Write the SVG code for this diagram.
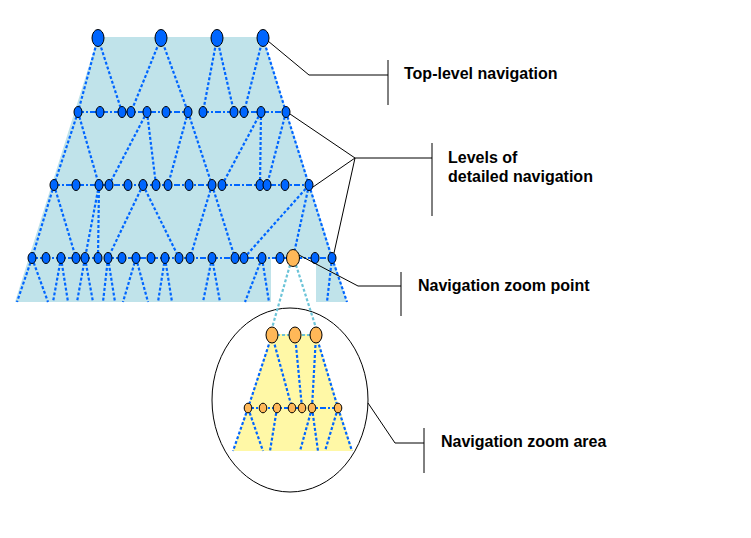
<svg xmlns="http://www.w3.org/2000/svg" width="751" height="538" viewBox="0 0 751 538">
<style>
.bg{fill:#C0E3EA;stroke:none}
.yl{fill:#FFF8A6;stroke:none}
.e{stroke:#0066FF;stroke-width:2.2;stroke-dasharray:3 2;fill:none}
.h{stroke:#0066FF;stroke-width:2.2;stroke-dasharray:6 2 2 2;fill:none}
.lb{stroke:#6CC4D8;stroke-width:2.2;stroke-dasharray:3 2;fill:none}
.n{fill:#0066FF;stroke:#000;stroke-width:1}
.o{fill:#FFB858;stroke:#000;stroke-width:1}
.ld{stroke:#000;stroke-width:1;fill:none}
.t{font-family:"Liberation Sans",Arial,sans-serif;font-size:16px;font-weight:bold;fill:#000}
</style>
<rect width="751" height="538" fill="#fff"/>
<g id="background">
<path class="bg" d="M98,37 L263,37 L347,302 L316,302 L316,259 L271,259 L271,302 L15,302 Z"/>
<ellipse cx="290" cy="400" rx="78" ry="92" fill="#fff" stroke="#000" stroke-width="1"/>
<polygon class="yl" points="272,334 316,334 353,451 233,451"/>
</g>
<g id="connectors">
<!-- top to row2 -->
<path class="e" d="M98,38 L78,112 M98,38 L122,112 M161,38 L131,112 M161,38 L188,112 M217,38 L203,112 M217,38 L234,112 M263,38 L244,112 M263,38 L286,112"/>
<!-- row2 to row3 -->
<path class="e" d="M78,112 L54,185 M78,112 L99,185 M147,112 L109,185 M147,112 L156,185 M188,112 L168,185 M188,112 L212,185 M261,112 L222,185 M261,112 L260,185 M286,112 L267,185 M286,112 L309,185"/>
<!-- row3 to row4 -->
<path class="e" d="M54,185 L32,258 M54,185 L76,258 M99,185 L85,258 M99,185 L98,258 M143,185 L108,258 M143,185 L179,258 M212,185 L190,258 M212,185 L235,258 M309,185 L244,258 M309,185 L293,258 M309,185 L332,258"/>
<!-- row4 to bottom -->
<path class="e" d="M32,258 L17,302 M32,258 L48,302 M61,258 L53,302 M61,258 L68,302 M85,258 L77,302 M85,258 L93,302 M108,258 L103,302 M108,258 L115,302 M136,258 L123,302 M136,258 L148,302 M165,258 L158,302 M165,258 L172,302 M212,258 L203,302 M212,258 L220,302 M262,258 L245,302 M262,258 L269,302 M332,258 L327,302 M332,258 L347,302"/>
<!-- zoom point to zoom area -->
<path class="lb" d="M290,265 L272,328 M296,265 L316,328"/>
<!-- row lines -->
<path class="h" d="M78,112 L188,112 M203,112 L286,112 M54,185 L309,185 M32,258 L332,258"/>
<path class="lb" d="M272,335 L316,335"/>
<!-- zoom area -->
<path class="e" d="M272,335 L248,408 M272,335 L292,408 M295,335 L302,408 M316,335 L312,408 M316,335 L338,408"/>
<path class="e" d="M248,408 L233,451 M248,408 L263,451 M277,408 L270,451 M312,408 L300,451 M312,408 L318,451 M338,408 L325,451 M338,408 L352,451"/>
<path class="h" d="M248,408 L338,408"/>
</g>
<g id="top-level">
<g id="t1"><ellipse class="n" cx="98" cy="38" rx="6" ry="8.5"/></g>
<g id="t2"><ellipse class="n" cx="161" cy="38" rx="6" ry="8.5"/></g>
<g id="t3"><ellipse class="n" cx="217" cy="38" rx="6" ry="8.5"/></g>
<g id="t4"><ellipse class="n" cx="263" cy="38" rx="6" ry="8.5"/></g>
</g>
<g id="row2">
<g id="r2-1"><ellipse class="n" cx="78" cy="112" rx="4" ry="5.5"/></g>
<g id="r2-2"><ellipse class="n" cx="100" cy="112" rx="4" ry="5.5"/></g>
<g id="r2-3"><ellipse class="n" cx="122" cy="112" rx="4" ry="5.5"/></g>
<g id="r2-4"><ellipse class="n" cx="131" cy="112" rx="4" ry="5.5"/></g>
<g id="r2-5"><ellipse class="n" cx="147" cy="112" rx="4" ry="5.5"/></g>
<g id="r2-6"><ellipse class="n" cx="166" cy="112" rx="4" ry="5.5"/></g>
<g id="r2-7"><ellipse class="n" cx="188" cy="112" rx="4" ry="5.5"/></g>
<g id="r2-8"><ellipse class="n" cx="203" cy="112" rx="4" ry="5.5"/></g>
<g id="r2-9"><ellipse class="n" cx="234" cy="112" rx="4" ry="5.5"/></g>
<g id="r2-10"><ellipse class="n" cx="244" cy="112" rx="4" ry="5.5"/></g>
<g id="r2-11"><ellipse class="n" cx="261" cy="112" rx="4" ry="5.5"/></g>
<g id="r2-12"><ellipse class="n" cx="286" cy="112" rx="4" ry="5.5"/></g>
</g>
<g id="row3">
<g id="r3-1"><ellipse class="n" cx="54" cy="185" rx="4" ry="5.5"/></g>
<g id="r3-2"><ellipse class="n" cx="76" cy="185" rx="4" ry="5.5"/></g>
<g id="r3-3"><ellipse class="n" cx="99" cy="185" rx="4" ry="5.5"/></g>
<g id="r3-4"><ellipse class="n" cx="109" cy="185" rx="4" ry="5.5"/></g>
<g id="r3-5"><ellipse class="n" cx="128" cy="185" rx="4" ry="5.5"/></g>
<g id="r3-6"><ellipse class="n" cx="143" cy="185" rx="4" ry="5.5"/></g>
<g id="r3-7"><ellipse class="n" cx="156" cy="185" rx="4" ry="5.5"/></g>
<g id="r3-8"><ellipse class="n" cx="168" cy="185" rx="4" ry="5.5"/></g>
<g id="r3-9"><ellipse class="n" cx="189" cy="185" rx="4" ry="5.5"/></g>
<g id="r3-10"><ellipse class="n" cx="212" cy="185" rx="4" ry="5.5"/></g>
<g id="r3-11"><ellipse class="n" cx="222" cy="185" rx="4" ry="5.5"/></g>
<g id="r3-12"><ellipse class="n" cx="260" cy="185" rx="4" ry="5.5"/></g>
<g id="r3-13"><ellipse class="n" cx="267" cy="185" rx="4" ry="5.5"/></g>
<g id="r3-14"><ellipse class="n" cx="285" cy="185" rx="4" ry="5.5"/></g>
<g id="r3-15"><ellipse class="n" cx="309" cy="185" rx="4" ry="5.5"/></g>
</g>
<g id="row4">
<g id="r4-1"><ellipse class="n" cx="32" cy="258" rx="4" ry="5.5"/></g>
<g id="r4-2"><ellipse class="n" cx="46" cy="258" rx="4" ry="5.5"/></g>
<g id="r4-3"><ellipse class="n" cx="61" cy="258" rx="4" ry="5.5"/></g>
<g id="r4-4"><ellipse class="n" cx="76" cy="258" rx="4" ry="5.5"/></g>
<g id="r4-5"><ellipse class="n" cx="85" cy="258" rx="4" ry="5.5"/></g>
<g id="r4-6"><ellipse class="n" cx="98" cy="258" rx="4" ry="5.5"/></g>
<g id="r4-7"><ellipse class="n" cx="108" cy="258" rx="4" ry="5.5"/></g>
<g id="r4-8"><ellipse class="n" cx="122" cy="258" rx="4" ry="5.5"/></g>
<g id="r4-9"><ellipse class="n" cx="136" cy="258" rx="4" ry="5.5"/></g>
<g id="r4-10"><ellipse class="n" cx="151" cy="258" rx="4" ry="5.5"/></g>
<g id="r4-11"><ellipse class="n" cx="165" cy="258" rx="4" ry="5.5"/></g>
<g id="r4-12"><ellipse class="n" cx="179" cy="258" rx="4" ry="5.5"/></g>
<g id="r4-13"><ellipse class="n" cx="190" cy="258" rx="4" ry="5.5"/></g>
<g id="r4-14"><ellipse class="n" cx="212" cy="258" rx="4" ry="5.5"/></g>
<g id="r4-15"><ellipse class="n" cx="235" cy="258" rx="4" ry="5.5"/></g>
<g id="r4-16"><ellipse class="n" cx="244" cy="258" rx="4" ry="5.5"/></g>
<g id="r4-17"><ellipse class="n" cx="262" cy="258" rx="4" ry="5.5"/></g>
<g id="r4-18"><ellipse class="n" cx="280" cy="258" rx="4" ry="5.5"/></g>
<g id="zoom-point"><ellipse class="o" cx="293" cy="258" rx="6.5" ry="8.5"/></g>
<g id="r4-20"><ellipse class="n" cx="315" cy="258" rx="4" ry="5.5"/></g>
<g id="r4-21"><ellipse class="n" cx="332" cy="258" rx="4" ry="5.5"/></g>
</g>
<g id="zoom-area-nodes">
<g id="z1-1"><ellipse class="o" cx="272" cy="335" rx="6" ry="8"/></g>
<g id="z1-2"><ellipse class="o" cx="295" cy="335" rx="6" ry="8"/></g>
<g id="z1-3"><ellipse class="o" cx="316" cy="335" rx="6" ry="8"/></g>
<g id="z2-1"><ellipse class="o" cx="248" cy="408" rx="3.8" ry="4.8"/></g>
<g id="z2-2"><ellipse class="o" cx="263" cy="408" rx="3.8" ry="4.8"/></g>
<g id="z2-3"><ellipse class="o" cx="277" cy="408" rx="3.8" ry="4.8"/></g>
<g id="z2-4"><ellipse class="o" cx="292" cy="408" rx="3.8" ry="4.8"/></g>
<g id="z2-5"><ellipse class="o" cx="302" cy="408" rx="3.8" ry="4.8"/></g>
<g id="z2-6"><ellipse class="o" cx="312" cy="408" rx="3.8" ry="4.8"/></g>
<g id="z2-7"><ellipse class="o" cx="338" cy="408" rx="3.8" ry="4.8"/></g>
</g>
<g id="label-top">
<path class="ld" d="M268,41 L309,75 L388,75 M388,60 L388,105"/>
<text class="t" x="404" y="79">Top-level navigation</text>
</g>
<g id="label-levels">
<path class="ld" d="M290,114 L355,158 M313,187 L355,158 M355,158 L334,253 M355,158 L432,158 M432,143 L432,216"/>
<text class="t" x="448" y="163">Levels of</text>
<text class="t" x="448" y="182">detailed navigation</text>
</g>
<g id="label-zoom-point">
<path class="ld" d="M299,255 L358,286 L401,286 M401,272 L401,316"/>
<text class="t" x="418" y="291">Navigation zoom point</text>
</g>
<g id="label-zoom-area">
<path class="ld" d="M368,403 L395,443 L424,443 M424,428 L424,473"/>
<text class="t" x="441" y="447">Navigation zoom area</text>
</g>
</svg>
